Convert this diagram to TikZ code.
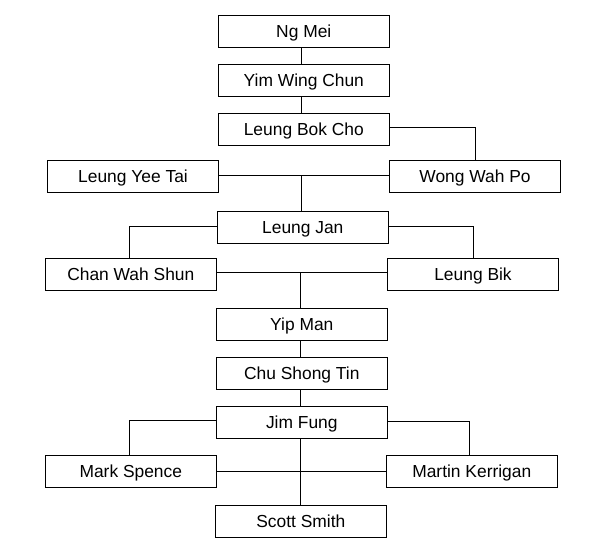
\documentclass[tikz,border=0pt]{standalone}
\usepackage{fontspec}
\setmainfont{Liberation Sans}
\begin{document}
\begin{tikzpicture}[x=1pt,y=-1pt,
  person/.style={draw=black,line width=0.9pt,minimum width=171pt,minimum height=31.5pt,inner sep=0pt,
    text height=12.6pt,text depth=0pt,
    font=\fontsize{17.4}{20}\selectfont,text=black},
  link/.style={draw=black,line width=0.9pt}]
\useasboundingbox (0,0) rectangle (600,550);
\node[person] (ngmei) at (303.8,31.4) {Ng Mei};
\node[person] (yim) at (303.8,80.5) {Yim Wing Chun};
\node[person] (bokcho) at (303.8,129.5) {Leung Bok Cho};
\node[person] (yeetai) at (133,176.3) {Leung Yee Tai};
\node[person] (wong) at (475,176.3) {Wong Wah Po};
\node[person] (jan) at (302.8,227.3) {Leung Jan};
\node[person] (chan) at (130.8,274.3) {Chan Wah Shun};
\node[person] (bik) at (473,274.3) {Leung Bik};
\node[person] (yip) at (301.8,324.3) {Yip Man};
\node[person] (chu) at (301.8,373.3) {Chu Shong Tin};
\node[person] (jim) at (301.8,422.3) {Jim Fung};
\node[person] (mark) at (130.8,471.5) {Mark Spence};
\node[person] (martin) at (471.8,471.5) {Martin Kerrigan};
\node[person] (scott) at (300.8,521.3) {Scott Smith};
\coordinate (ca) at (301.3,0);
\coordinate (cb) at (300.5,0);
\draw[link] (ngmei.south -| ca) -- (yim.north -| ca);
\draw[link] (yim.south -| ca) -- (bokcho.north -| ca);
\draw[link] ([yshift=2.5pt]bokcho.east) -| (wong.north);
\draw[link] ([yshift=1.3pt]yeetai.east) -- ([yshift=1.3pt]wong.west);
\coordinate (j1) at ([yshift=1.3pt]yeetai.east -| ca);
\draw[link] (j1) -- (jan.north -| ca);
\draw[link] ([yshift=1pt]jan.west) -| ([xshift=-1.5pt]chan.north);
\draw[link] ([yshift=1pt]jan.east) -| (bik.north);
\draw[link] ([yshift=2pt]chan.east) -- ([yshift=2pt]bik.west);
\coordinate (j2) at ([yshift=2pt]chan.east -| cb);
\draw[link] (j2) -- (yip.north -| cb);
\draw[link] (yip.south -| cb) -- (chu.north -| cb);
\draw[link] (chu.south -| cb) -- (jim.north -| cb);
\draw[link] ([yshift=2pt]jim.west) -| ([xshift=-1.5pt]mark.north);
\draw[link] ([yshift=1pt]jim.east) -| ([xshift=-2.5pt]martin.north);
\draw[link] (mark.east) -- (martin.west);
\draw[link] (jim.south -| cb) -- (scott.north -| cb);
\end{tikzpicture}
\end{document}
